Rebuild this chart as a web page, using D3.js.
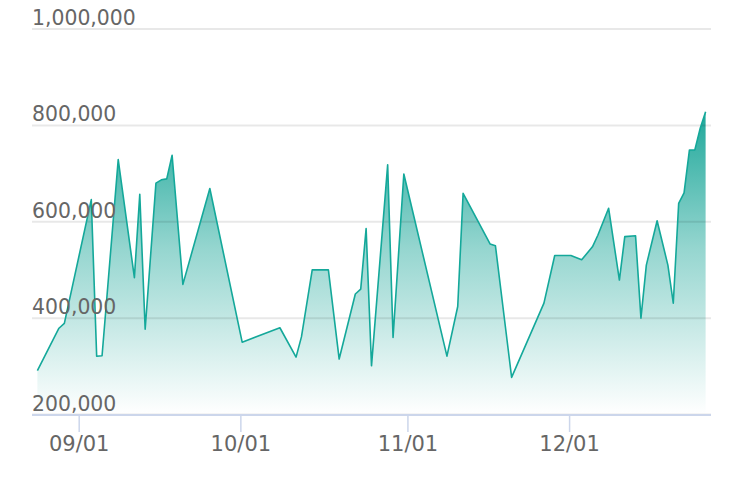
<!DOCTYPE html>
<html>
<head>
<meta charset="utf-8">
<script src="https://cdn.jsdelivr.net/npm/d3@7"></script>
<style>
  html, body { margin: 0; padding: 0; background: #fff; }
  svg { display: block; font-family: "DejaVu Sans", sans-serif; }
</style>
</head>
<body>
<svg id="chart" width="730" height="482"></svg>
<script>
const year = 2023;
const dates = [
  "08-24","08-28","08-29","09-03","09-04","09-05","09-08","09-11","09-12","09-13",
  "09-15","09-16","09-17","09-18","09-20","09-25","10-01","10-08","10-11","10-12",
  "10-14","10-17","10-19","10-22","10-23","10-24","10-25","10-28","10-29","10-31",
  "11-08","11-10","11-11","11-16","11-17","11-20","11-26","11-28","12-01","12-03",
  "12-05","12-06","12-08","12-10","12-11","12-13","12-14","12-15","12-17","12-19",
  "12-20","12-21","12-22","12-23","12-24","12-25","12-26"
];
const values = [
  290000,378000,388000,645000,320000,321000,728000,483000,656000,376000,
  679000,686000,688000,737000,469000,668000,349000,379000,318000,360000,
  499000,499000,314000,449000,459000,585000,300000,717000,359000,698000,
  320000,423000,658000,553000,549000,276000,430000,529000,529000,520000,
  547000,571000,627000,478000,568000,570000,399000,509000,601000,509000,
  430000,637000,659000,748000,748000,793000,827000
];
const yTicks = [200000, 400000, 600000, 800000, 1000000];
const xTickLabels = ["09/01", "10/01", "11/01", "12/01"];
const xDomain = ["08-23", "12-27"];

const parse = s => { const [m, d] = s.split("-").map(Number); return new Date(Date.UTC(year, m - 1, d)); };
const data = dates.map((d, i) => ({ date: parse(d), value: values[i] }));

const svg = d3.select("#chart");
const mLeft = 32, mRight = 711, mTop = 28.5, mBottom = 414;

const x = d3.scaleUtc().domain(xDomain.map(parse)).range([mLeft, mRight]);
const y = d3.scaleLinear().domain([200000, 1000000]).range([mBottom, mTop]);

const defs = svg.append("defs");
const grad = defs.append("linearGradient")
  .attr("id", "areaGrad").attr("x1", 0).attr("y1", 0).attr("x2", 0).attr("y2", 1);
grad.append("stop").attr("offset", "0%").attr("stop-color", "#13a395").attr("stop-opacity", 0.95);
grad.append("stop").attr("offset", "45%").attr("stop-color", "#13a395").attr("stop-opacity", 0.45);
grad.append("stop").attr("offset", "100%").attr("stop-color", "#13a395").attr("stop-opacity", 0.0);

// area
const area = d3.area().x(d => x(d.date)).y0(y(200000)).y1(d => y(d.value));
svg.append("path").datum(data).attr("d", area).attr("fill", "url(#areaGrad)");

// gridlines (drawn over area)
const yAxis = d3.axisLeft(y).tickValues(yTicks).tickSize(-(mRight - mLeft)).tickFormat("");
const gy = svg.append("g").attr("transform", `translate(${mLeft},0)`).call(yAxis);
gy.select(".domain").remove();
gy.selectAll(".tick line").attr("stroke", "rgba(0,0,0,0.09)").attr("stroke-width", 2);

// line
const line = d3.line().x(d => x(d.date)).y(d => y(d.value));
svg.append("path").datum(data).attr("d", line)
  .attr("fill", "none").attr("stroke", "#14a89a").attr("stroke-width", 1.6)
  .attr("stroke-linejoin", "round");

// y labels
const fmt = d3.format(",");
svg.append("g").selectAll("text").data(yTicks).join("text")
  .attr("x", mLeft).attr("y", d => y(d) - 3.5)
  .attr("fill", "#666").attr("font-size", 20.4)
  .text(d => fmt(d));

// x axis
const xTicks = xTickLabels.map(s => { const [m, d] = s.split("/").map(Number); return new Date(Date.UTC(year, m - 1, d)); });
const xAxis = d3.axisBottom(x).tickValues(xTicks).tickSize(17).tickPadding(4)
  .tickFormat((d, i) => xTickLabels[i]);
const gx = svg.append("g").attr("transform", `translate(0,${mBottom + 1})`).call(xAxis);
gx.select(".domain").attr("stroke", "#ccd6eb").attr("stroke-width", 2).attr("d", `M${mLeft},0H${mRight}`);
gx.selectAll(".tick").attr("transform", d => `translate(${x(d) - 1.3},0)`);
gx.selectAll(".tick line").attr("stroke", "#ccd6eb").attr("stroke-width", 1.5);
gx.selectAll(".tick text").attr("fill", "#666").attr("font-size", 21)
  .attr("font-family", "DejaVu Sans, sans-serif");
</script>
</body>
</html>
